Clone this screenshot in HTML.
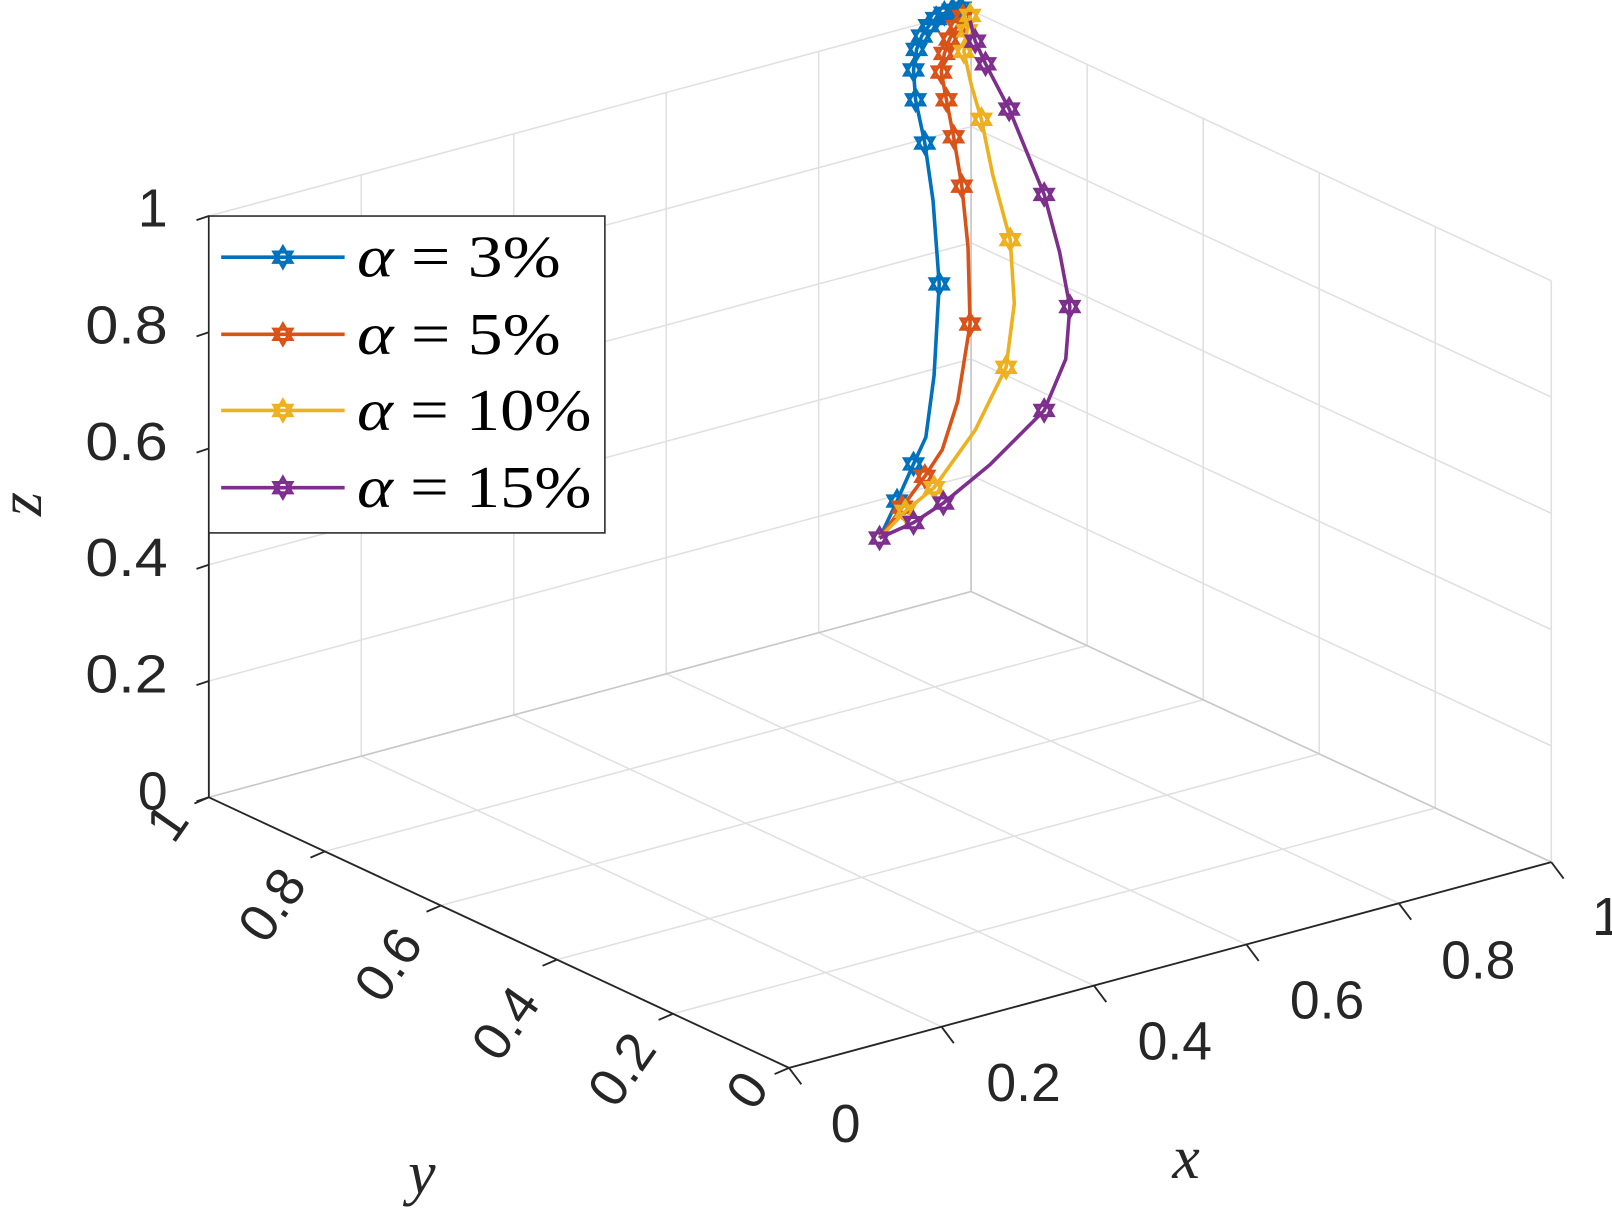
<!DOCTYPE html>
<html><head><meta charset="utf-8"><style>
html,body{margin:0;padding:0;background:#fff;width:1612px;height:1215px;overflow:hidden}
svg{display:block}
</style></head><body>
<svg id="s" xmlns="http://www.w3.org/2000/svg" width="1612" height="1215" viewBox="0 0 1567 1181" preserveAspectRatio="none">
<g id="grid"></g>
<g id="axes"></g>
<g id="curves"></g>
<g font-family="Liberation Sans, sans-serif" font-size="52" fill="#262626">
<text x="163" y="220" text-anchor="end">1</text>
<text x="163" y="334" text-anchor="end" textLength="80" lengthAdjust="spacingAndGlyphs">0.8</text>
<text x="163" y="447" text-anchor="end" textLength="80" lengthAdjust="spacingAndGlyphs">0.6</text>
<text x="163" y="560" text-anchor="end" textLength="80" lengthAdjust="spacingAndGlyphs">0.4</text>
<text x="163" y="673" text-anchor="end" textLength="80" lengthAdjust="spacingAndGlyphs">0.2</text>
<text x="163" y="787" text-anchor="end">0</text>
<text x="822" y="1110" text-anchor="middle">0</text>
<text x="995" y="1070" text-anchor="middle">0.2</text>
<text x="1142" y="1030" text-anchor="middle">0.4</text>
<text x="1290" y="990" text-anchor="middle">0.6</text>
<text x="1437" y="951" text-anchor="middle">0.8</text>
<text x="1562" y="909" text-anchor="middle">1</text>
<text transform="translate(163,800) rotate(-55)" text-anchor="middle" dy="17">1</text>
<text transform="translate(265,880) rotate(-55)" text-anchor="middle" dy="17">0.8</text>
<text transform="translate(378,938) rotate(-55)" text-anchor="middle" dy="17">0.6</text>
<text transform="translate(492,995) rotate(-55)" text-anchor="middle" dy="17">0.4</text>
<text transform="translate(605,1040) rotate(-55)" text-anchor="middle" dy="17">0.2</text>
<text transform="translate(727,1060) rotate(-55)" text-anchor="middle" dy="17">0</text>
</g>
<g font-family="Liberation Serif, serif" font-style="italic" font-size="60" fill="#262626">
<text x="1153" y="1145" text-anchor="middle">x</text>
<text x="410" y="1160" text-anchor="middle">y</text>
<text transform="translate(40,490) rotate(-90)" text-anchor="middle">z</text>
</g>
<rect x="203" y="210" width="385" height="308" fill="#fff" stroke="#262626" stroke-width="1.5"/>
<g id="leg"></g>
<g font-family="Liberation Serif, serif" font-size="58" fill="#000">
<text x="347" y="269" textLength="198" lengthAdjust="spacingAndGlyphs"><tspan font-style="italic">α</tspan> = 3%</text>
<text x="347" y="344" textLength="198" lengthAdjust="spacingAndGlyphs"><tspan font-style="italic">α</tspan> = 5%</text>
<text x="347" y="418" textLength="228" lengthAdjust="spacingAndGlyphs"><tspan font-style="italic">α</tspan> = 10%</text>
<text x="347" y="493" textLength="228" lengthAdjust="spacingAndGlyphs"><tspan font-style="italic">α</tspan> = 15%</text>
</g>
</svg>
<script>
const NS="http://www.w3.org/2000/svg";
function P(x,y,z){return [203+741*x+564*(1-y),775-200*x+263*(1-y)-565*z];}
function line(g,a,b,c,w){const l=document.createElementNS(NS,"line");l.setAttribute("x1",a[0]);l.setAttribute("y1",a[1]);l.setAttribute("x2",b[0]);l.setAttribute("y2",b[1]);l.setAttribute("stroke",c);l.setAttribute("stroke-width",w);g.appendChild(l);}
const G=document.getElementById("grid"),A=document.getElementById("axes");
const gc="#e0e0e0";
for(let i=0;i<=5;i++){const t=i/5;
 line(G,P(t,1,0),P(t,0,0),gc,1.5);
 line(G,P(0,t,0),P(1,t,0),gc,1.5);
 line(G,P(t,1,0),P(t,1,1),gc,1.5);
 line(G,P(0,1,t),P(1,1,t),gc,1.5);
 line(G,P(1,t,0),P(1,t,1),gc,1.5);
 line(G,P(1,0,t),P(1,1,t),gc,1.5);
}
line(G,P(1,1,0),P(1,1,1),"#c8c8c8",1.5);
line(G,P(0,1,0),P(1,1,0),"#c8c8c8",1.5);
line(G,P(1,1,0),P(1,0,0),"#c8c8c8",1.5);
const ac="#262626";
line(A,P(0,1,0),P(0,1,1),ac,1.8);
line(A,P(0,1,0),P(0,0,0),ac,1.8);
line(A,P(0,0,0),P(1,0,0),ac,1.8);
for(let i=0;i<=5;i++){const t=i/5;
 let p=P(0,1,t);line(A,p,[p[0]-12,p[1]+4],ac,1.8);
 p=P(0,t,0);line(A,p,[p[0]-14,p[1]+6],ac,1.8);
 p=P(t,0,0);line(A,p,[p[0]+12,p[1]+16],ac,1.8);
}
function star(g,x,y,c){const r=10;let s1="",s2="";for(let k=0;k<3;k++){const a1=-Math.PI/2+k*2*Math.PI/3,a2=Math.PI/2+k*2*Math.PI/3;s1+=(x+r*Math.cos(a1))+","+(y+r*Math.sin(a1))+" ";s2+=(x+r*Math.cos(a2))+","+(y+r*Math.sin(a2))+" ";}
 for(const s of [s1,s2]){const p=document.createElementNS(NS,"polygon");p.setAttribute("points",s);p.setAttribute("fill","none");p.setAttribute("stroke",c);p.setAttribute("stroke-width",3);g.appendChild(p);}}
function poly(g,pts,c){const p=document.createElementNS(NS,"polyline");p.setAttribute("points",pts.map(q=>q.join(",")).join(" "));p.setAttribute("fill","none");p.setAttribute("stroke",c);p.setAttribute("stroke-width",3.5);p.setAttribute("stroke-linejoin","round");g.appendChild(p);}
const C=document.getElementById("curves");
const S=[
["#0072BD",[[855,523],[872,487],[888,451],[900,425],[908,365],[913,276],[907,195],[899,139],[890,97],[888,68],[891,48],[896,35],[903,25],[910,18],[918,13],[926,10],[934,8],[940,8]],[[872,487],[888,451],[913,276],[899,139],[890,97],[888,68],[891,48],[896,35],[903,25],[910,18],[918,13],[926,10],[934,8]]],
["#D95319",[[855,523],[877,493],[899,463],[916,437],[931,390],[943,315],[941,240],[935,181],[927,133],[920,97],[915,70],[918,52],[923,38],[930,26],[936,16],[940,8]],[[877,493],[899,463],[943,315],[935,181],[927,133],[920,97],[915,70],[918,52],[923,38],[930,26],[936,16]]],
["#EDB120",[[855,523],[880,497],[908,474],[948,418],[978,357],[986,295],[982,233],[965,170],[954,116],[944,82],[937,50],[940,30],[943,15]],[[880,497],[908,474],[978,357],[982,233],[954,116],[937,50],[940,30],[943,15]]],
["#7E2F8E",[[855,523],[888,508],[917,489],[962,452],[1015,399],[1036,349],[1040,298],[1030,245],[1015,189],[981,106],[958,62],[948,40],[943,20]],[[855,523],[888,508],[917,489],[1015,399],[1040,298],[1015,189],[981,106],[958,62],[948,40]]]];
const L=document.getElementById("leg");const ly=[250,325,399,474];
S.forEach((s,i)=>{poly(C,s[1],s[0]);s[2].forEach(q=>star(C,q[0],q[1],s[0]));line(L,[215,ly[i]],[335,ly[i]],s[0],3.5);star(L,275,ly[i],s[0]);});
</script>
</body></html>
